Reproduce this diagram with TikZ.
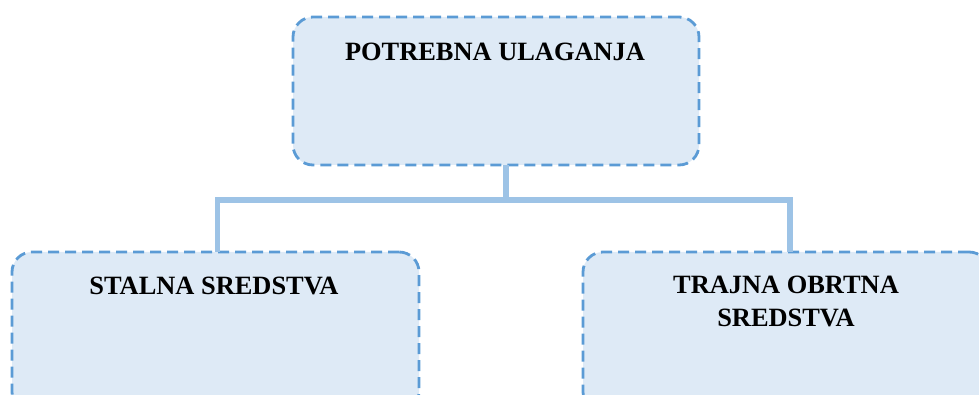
\documentclass[tikz,border=0pt]{standalone}
\usepackage{fontspec}
\setmainfont{Liberation Serif}
\definecolor{boxfill}{HTML}{DEEAF6}
\definecolor{boxline}{HTML}{5B9BD5}
\definecolor{connline}{HTML}{9DC3E6}
\begin{document}
\begin{tikzpicture}[x=1pt,y=-1pt,
  box/.style={draw=boxline,fill=boxfill,line width=2.8pt,dash pattern=on 11pt off 6pt,rounded corners=20pt,inner sep=0pt,outer sep=0pt},
  lbl/.style={font=\bfseries\fontsize{26.4}{32}\selectfont,align=center,anchor=base,inner sep=0pt},
  conn/.style={draw=connline,line width=5.5pt}]
\useasboundingbox (0,0) rectangle (979,395);
\clip (0,0) rectangle (979,395);
\node[box,minimum width=406pt,minimum height=148pt,anchor=north west] (top) at (293,17) {};
\node[box,minimum width=407pt,minimum height=160pt,anchor=north west] (left) at (12,252) {};
\node[box,minimum width=406pt,minimum height=160pt,anchor=north west] (right) at (583,252) {};
\node[lbl] (ttop) at (495,61) {POTREBNA ULAGANJA};
\node[lbl] (tleft) at (214,294) {STALNA SREDSTVA};
\node[lbl,anchor=north] (tright) at (786,276) {TRAJNA OBRTNA\\[1pt]SREDSTVA};
\coordinate (j) at (506,200);
\draw[conn] (j |- top.south) -- (j);
\draw[conn] ([xshift=2pt]left.north) -- ([xshift=2pt]left.north |- j) -- ([xshift=4pt]right.north |- j) -- ([xshift=4pt]right.north);
\end{tikzpicture}
\end{document}
